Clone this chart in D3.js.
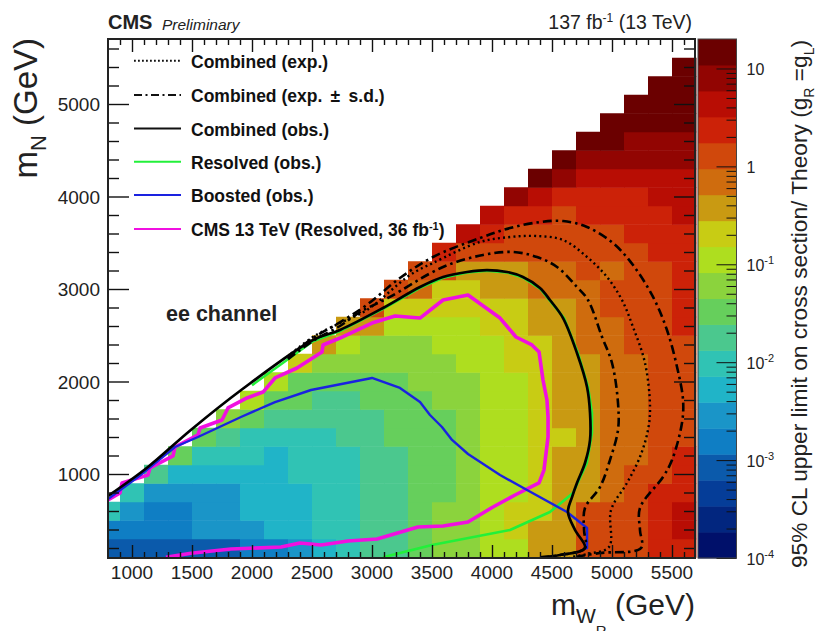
<!doctype html>
<html lang="en">
<head>
<meta charset="utf-8">
<script src="https://d3js.org/d3.v7.min.js"></script>
<style>
  body { margin:0; background:#fff; }
  text { font-family:"Liberation Sans", Arial, sans-serif; fill:#222; }
  .legend-text { font-size:17.5px; font-weight:bold; fill:#111; }
  .tick-label { font-size:19px; }
  .tick line { stroke:#111; }
  .domain { display:none; }
</style>
</head>
<body>
<div id="chart"></div>
<script>
// 20 colour bands of the z axis, bottom to top
const bandColors = ["#00106a","#02267f","#053d98","#0b5aab","#0f7ec4","#1a95c8","#20b4c8","#30c3b4","#4bc88e","#66cf5c",
                    "#8bd33d","#aede1f","#c8cc14","#c99a12","#cf6c0e","#d0480c","#cc2208","#b80d04","#920502","#6b0000"];

// bin edges of the mWR axis; each list below is one column, from mN = 100 upward in 200 GeV steps
const mwEdges = [800,900,1100,1300,1500,1700,1900,2100,2300,2500,2700,2900,3100,3300,3500,3700,3900,4100,4300,4500,4700,4900,5100,5300,5500,5700];
const mnStep = 200, mnStart = 100;

// colour band for each cell
const limitBands = [
  [3,4,7],
  [3,4,5,7],
  [3,4,4,5,8],
  [3,4,4,5,6,9],
  [3,5,5,5,6,7,9],
  [3,5,5,5,6,7,8,10],
  [4,5,6,6,6,7,7,9,11],
  [4,6,6,6,6,6,7,8,9,11],
  [5,6,6,6,7,7,7,8,9,9,12],
  [6,7,7,7,7,7,7,8,8,9,10,13],
  [7,7,7,7,7,7,8,8,8,9,10,11,13],
  [8,8,8,8,8,8,8,8,9,9,10,10,13,15],
  [8,8,8,8,8,8,9,9,9,9,10,10,11,12,15],
  [9,9,9,9,9,9,9,9,9,10,10,10,11,12,14,15],
  [10,10,10,9,9,9,9,9,10,10,10,11,11,12,12,15,16],
  [10,10,10,10,10,10,10,10,10,10,11,11,11,12,12,13,15,17],
  [11,11,11,11,11,11,11,11,11,11,11,11,12,12,13,13,15,16,17],
  [11,12,12,11,11,11,11,11,11,11,12,12,12,12,13,13,15,15,16,18],
  [13,13,12,12,12,12,12,12,12,12,12,12,13,13,14,14,15,15,16,17,19],
  [13,13,13,13,13,13,12,13,13,13,13,13,13,13,14,14,15,15,15,16,18,19],
  [15,15,15,13,13,13,13,13,13,13,13,14,14,14,14,15,15,15,16,16,17,18,19],
  [15,15,15,14,14,14,14,14,14,14,14,14,14,15,15,14,15,15,16,16,17,18,19,19],
  [15,15,15,15,15,14,14,14,14,14,14,15,15,15,15,15,15,16,16,16,17,18,18,19,19],
  [16,16,16,16,15,15,15,15,15,15,15,15,15,15,15,15,16,16,16,17,17,18,18,19,19,19],
  [16,17,17,16,16,16,15,15,15,15,15,15,16,16,16,16,16,16,17,17,17,18,18,19,19,19,19]
];

// exclusion contours, [mWR, mN] in GeV
const expPlus = [[2300,2260],[2508,2470],[2733,2640],[2958,2830],[3233,3119],[3508,3346],[3900,3551],[4150,3659],[4400,3724],[4592,3735],[4792,3670],[5008,3497],[5175,3259],[5342,2914],[5458,2557],[5542,2157],[5592,1800],[5583,1551],[5500,1151],[5425,968],[5233,632],[5233,395],[5242,200],[4900,146],[4675,100]];
const expCentral = [[2292,2265],[2508,2481],[2733,2632],[2958,2773],[3317,3151],[3508,3281],[3900,3508],[4150,3562],[4367,3573],[4592,3530],[4792,3346],[4958,3130],[5083,2881],[5175,2589],[5275,2200],[5317,1724],[5300,1476],[5233,1184],[5125,903],[4992,611],[4975,211],[4792,135],[4650,100]];
const expMinus = [[2300,2240],[2508,2440],[2733,2600],[2900,2751],[3133,2903],[3592,3238],[3925,3368],[4175,3400],[4375,3346],[4542,3238],[4708,3022],[4800,2881],[4917,2481],[5000,2200],[5050,1768],[5050,1476],[4983,1151],[4900,859],[4775,632],[4767,395],[4775,200],[4567,124],[4400,100]];
const obsCombined = [[800,762],[1133,1076],[1490,1476],[1910,1908],[2508,2449],[2733,2557],[3092,2795],[3400,3022],[3592,3130],[3792,3184],[3958,3205],[4125,3184],[4258,3130],[4400,3011],[4483,2881],[4592,2686],[4708,2308],[4792,1941],[4817,1659],[4817,1368],[4775,1119],[4708,903],[4667,751],[4633,589],[4692,395],[4775,200],[4567,124],[4400,100]];
const obsResolved = [[2000,1960],[2508,2435],[2733,2545],[3092,2785],[3400,3012],[3592,3122],[3792,3178],[3958,3198],[4125,3180],[4258,3125],[4400,3005],[4483,2875],[4600,2686],[4716,2308],[4800,1941],[4833,1659],[4833,1443],[4790,1119],[4675,795],[4483,589],[4150,395],[3500,232],[3092,100]];
const obsBoosted = [[800,730],[1050,968],[1358,1292],[1550,1400],[1908,1616],[2192,1778],[2492,1908],[3000,2038],[3233,1930],[3400,1778],[3483,1638],[3583,1508],[3667,1368],[3800,1216],[4067,989],[4292,827],[4625,589],[4792,416],[4792,200],[4767,190]];
const cms36 = [[800,719],[900,795],[917,903],[1133,989],[1150,1065],[1342,1195],[1358,1292],[1550,1422],[1567,1497],[1750,1584],[1800,1714],[1958,1822],[2092,1886],[2192,2038],[2375,2146],[2583,2319],[2592,2395],[2733,2470],[3000,2632],[3192,2708],[3400,2686],[3592,2881],[3800,2935],[4067,2686],[4200,2481],[4333,2395],[4392,2319],[4425,2016],[4458,1800],[4467,1616],[4467,1400],[4433,1043],[4392,903],[4192,773],[4008,643],[3800,481],[3592,438],[3383,427],[3042,297],[2800,276],[2575,232],[2400,254],[2242,211],[1825,189],[1492,143],[1283,100]];

const legendLabels = ["Combined (exp.)","Combined (exp. \u2009±\u2009 s.d.)","Combined (obs.)","Resolved (obs.)","Boosted (obs.)","CMS 13 TeV (Resolved, 36 fb"];
const legendColors = ["#111","#111","#111","#22f03a","#1a22e0","#f010e0"];
const legendDash = ["1.8 2.2","8 3.5 2 3.5",null,null,null,null];

const mwMajor = [1000,1500,2000,2500,3000,3500,4000,4500,5000,5500];
const mnMajor = [1000,2000,3000,4000,5000];
const zMajor = [1e-4,1e-3,1e-2,1e-1,1,10];
const zLabels = ["-4","-3","-2","-1",null,null];

let svg = d3.select("#chart").append("svg")
    .attr("width",821).attr("height",631)
    .style("display","block");

let xScale = d3.scaleLinear().domain([800,5700]).range([108,696]);
let yScale = d3.scaleLinear().domain([100,5700]).range([557.25,39.25]);
let zScale = d3.scaleLog().domain([1e-4,20]).range([558,39]);

svg.append("defs").append("clipPath").attr("id","plot-clip")
   .append("rect").attr("x",108).attr("y",38).attr("width",588).attr("height",520);

// heat map cells
limitBands.forEach(function(col,i){
  svg.append("g").selectAll("rect").data(col).join("rect")
     .attr("x",xScale(mwEdges[i]))
     .attr("width",xScale(mwEdges[i+1])-xScale(mwEdges[i])+0.5)
     .attr("y",function(d,j){return yScale(mnStart+(j+1)*mnStep);})
     .attr("height",function(d,j){return yScale(mnStart+j*mnStep)-yScale(mnStart+(j+1)*mnStep)+0.5;})
     .attr("fill",function(d){return bandColors[d];});
});

// contours
let curves = [
  {pts:obsResolved,color:legendColors[3],width:2.6,dash:null,curve:d3.curveLinear},
  {pts:cms36,color:legendColors[5],width:3.6,dash:null,curve:d3.curveLinear},
  {pts:obsBoosted,color:legendColors[4],width:2.4,dash:null,curve:d3.curveLinear},
  {pts:expPlus,color:"#000",width:2.6,dash:"9 4 2.5 4",curve:d3.curveCatmullRom},
  {pts:expMinus,color:"#000",width:2.6,dash:"9 4 2.5 4",curve:d3.curveCatmullRom},
  {pts:expCentral,color:"#000",width:2.4,dash:"2 3.2",curve:d3.curveCatmullRom},
  {pts:obsCombined,color:"#000",width:2.7,dash:null,curve:d3.curveCatmullRom}
];
let plotLines = svg.append("g").attr("clip-path","url(#plot-clip)");
curves.forEach(function(c){
  let line = d3.line().x(function(d){return xScale(d[0]);}).y(function(d){return yScale(d[1]);}).curve(c.curve);
  plotLines.append("path").attr("d",line(c.pts))
     .attr("fill","none").attr("stroke",c.color).attr("stroke-width",c.width)
     .attr("stroke-linejoin","round").attr("stroke-dasharray",c.dash);
});

// axes: minor and major ticks on all four sides
function ticks(axis,values,size,tr){
  svg.append("g").attr("transform",tr)
     .call(axis.tickValues(values).tickSize(size).tickSizeOuter(0).tickFormat(""))
     .selectAll("line").attr("stroke-width",1.4);
}
let mwMinor = d3.range(900,5700,100).filter(function(d){return d%500!=0;});
let mnMinor = d3.range(200,5700,200).filter(function(d){return d%1000!=0;});
ticks(d3.axisTop(xScale),mwMinor,6,"translate(0,558)");
ticks(d3.axisTop(xScale),mwMajor,13,"translate(0,558)");
ticks(d3.axisBottom(xScale),mwMinor,6,"translate(0,39)");
ticks(d3.axisBottom(xScale),mwMajor,13,"translate(0,39)");
ticks(d3.axisRight(yScale),mnMinor,11,"translate(108,0)");
ticks(d3.axisRight(yScale),mnMajor,21,"translate(108,0)");
ticks(d3.axisLeft(yScale),mnMinor,11,"translate(695,0)");
ticks(d3.axisLeft(yScale),mnMajor,21,"translate(695,0)");

svg.append("rect").attr("x",108).attr("y",39).attr("width",587).attr("height",519)
   .attr("fill","none").attr("stroke","#222").attr("stroke-width",2);

svg.append("g").selectAll("text").data(mwMajor).join("text").attr("class","tick-label")
   .attr("x",function(d){return xScale(d);}).attr("y",579).attr("text-anchor","middle")
   .text(function(d){return d;});
svg.append("g").selectAll("text").data(mnMajor).join("text").attr("class","tick-label")
   .attr("x",100).attr("y",function(d){return yScale(d)+7;}).attr("text-anchor","end")
   .text(function(d){return d;});

// legend
legendLabels.forEach(function(label,i){
  let yPos = [60.7,95,128.5,161.7,195,229][i];
  svg.append("line").attr("x1",134).attr("x2",181).attr("y1",yPos).attr("y2",yPos)
     .attr("stroke",legendColors[i]).attr("stroke-width",2)
     .attr("stroke-dasharray",legendDash[i]);
  let t = svg.append("text").attr("class","legend-text").attr("x",191).attr("y",yPos+7).text(label);
  if(i==5){
    t.append("tspan").attr("dy",-6).attr("font-size",11).text("-1");
    t.append("tspan").attr("dy",6).text(")");
  }
});

svg.append("text").attr("x",166).attr("y",321).attr("font-size",21.5).attr("font-weight","bold").attr("fill","#111").text("ee channel");

// header
svg.append("text").attr("x",108).attr("y",29).attr("font-size",20).attr("font-weight","bold").attr("fill","#111").text("CMS");
svg.append("text").attr("x",162).attr("y",30).attr("font-size",15.5).attr("font-style","italic").attr("fill","#333").text("Preliminary");
let lumi = svg.append("text").attr("x",692).attr("y",29).attr("font-size",19.5).attr("text-anchor","end");
lumi.append("tspan").text("137 fb");
lumi.append("tspan").attr("dy",-7).attr("font-size",12).text("-1");
lumi.append("tspan").attr("dy",7).text(" (13 TeV)");

// axis titles
let xTitle = svg.append("text").attr("x",695).attr("y",615).attr("font-size",30).attr("text-anchor","end");
xTitle.append("tspan").text("m");
xTitle.append("tspan").attr("dy",8).attr("font-size",21).text("W");
xTitle.append("tspan").attr("dy",13).attr("font-size",15).text("R");
xTitle.append("tspan").attr("dy",-21).text(" (GeV)");

let yTitle = svg.append("text").attr("transform","translate(37,38) rotate(-90)").attr("font-size",33).attr("text-anchor","end");
yTitle.append("tspan").text("m");
yTitle.append("tspan").attr("dy",9).attr("font-size",22).text("N");
yTitle.append("tspan").attr("dy",-9).text(" (GeV)");

// colour bar, bands are even in log z
let bandEdges = d3.range(21).map(function(i){return 1e-4*Math.pow(20/1e-4,i/20);});
svg.append("g").selectAll("rect").data(bandColors).join("rect")
   .attr("x",698).attr("width",38.5)
   .attr("y",function(d,i){return zScale(bandEdges[i+1]);})
   .attr("height",function(d,i){return zScale(bandEdges[i])-zScale(bandEdges[i+1])+0.5;})
   .attr("fill",function(d){return d;});
let zMinor = [];
zMajor.forEach(function(m){ d3.range(2,10).forEach(function(k){ if(m*k<20) zMinor.push(m*k); }); });
let zGroup = svg.append("g").attr("transform","translate(736.5,0)");
zGroup.call(d3.axisLeft(zScale).tickValues(zMinor).tickSize(10).tickSizeOuter(0).tickFormat(""));
svg.append("g").attr("transform","translate(736.5,0)")
   .call(d3.axisLeft(zScale).tickValues(zMajor).tickSize(20).tickSizeOuter(0).tickFormat(""));
svg.append("rect").attr("x",698).attr("y",39).attr("width",38.5).attr("height",519)
   .attr("fill","none").attr("stroke","#444").attr("stroke-width",1);

zMajor.forEach(function(v,i){
  let t = svg.append("text").attr("x",746.5).attr("y",zScale(v)+6.5).attr("font-size",16);
  if(zLabels[i]){
    t.append("tspan").text("10");
    t.append("tspan").attr("dy",-7).attr("font-size",11).text(zLabels[i]);
  } else {
    t.text(v);
  }
});

let zTitle = svg.append("text").attr("transform","translate(806.5,568) rotate(-90)").attr("font-size",22.7);
zTitle.append("tspan").text("95% CL upper limit on cross section/ Theory (g");
zTitle.append("tspan").attr("dy",7).attr("font-size",14).text("R");
zTitle.append("tspan").attr("dy",-7).text(" =g");
zTitle.append("tspan").attr("dy",7).attr("font-size",14).text("L");
zTitle.append("tspan").attr("dy",-7).text(")");
</script>
</body>
</html>
